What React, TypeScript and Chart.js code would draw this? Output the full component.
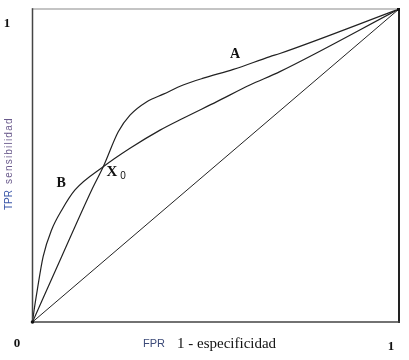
import { useEffect, useRef } from "react";
import { Chart, registerables } from "chart.js";
Chart.register(...registerables);

// Curve A (upper at right, steeper then bends)
const curveAX = [0, 0.08, 0.1615, 0.193, 0.234, 0.266, 0.312, 0.357, 0.411, 0.466, 0.548, 0.648, 0.675, 1];
const curveAY = [0, 0.21, 0.4217, 0.496, 0.608, 0.661, 0.704, 0.728, 0.757, 0.779, 0.807, 0.848, 0.858, 1];
// Curve B (concave, lower at right)
const curveBX = [0, 0.004, 0.013, 0.029, 0.052, 0.08, 0.116, 0.193, 0.266, 0.348, 0.411, 0.503, 0.593, 0.675, 1];
const curveBY = [0, 0.035, 0.102, 0.209, 0.294, 0.358, 0.422, 0.496, 0.555, 0.613, 0.651, 0.704, 0.757, 0.8, 1];
// Diagonal (random classifier)
const diagX = [0, 1];
const diagY = [0, 1];

// Annotations in data coordinates
const labelA = { text: "A", x: 0.553, y: 0.856 };
const labelB = { text: "B", x: 0.078, y: 0.442 };
const labelX0 = { text: "X", sub: "0", x: 0.217, y: 0.479 };

const toPts = (xs: number[], ys: number[]) => xs.map((x, i) => ({ x, y: ys[i] }));

const framePlugin = {
  id: "frameAndText",
  afterDraw(chart: any) {
    const { ctx, chartArea: a, scales } = chart;
    const xs = scales.x, ys = scales.y;
    ctx.save();
    // frame
    ctx.lineCap = "square";
    ctx.strokeStyle = "#8a8a8a";
    ctx.lineWidth = 1.2;
    ctx.beginPath(); ctx.moveTo(a.left, a.top); ctx.lineTo(a.right, a.top); ctx.stroke();
    ctx.strokeStyle = "#222";
    ctx.lineWidth = 2;
    ctx.beginPath(); ctx.moveTo(a.right, a.top); ctx.lineTo(a.right, a.bottom); ctx.stroke();
    ctx.strokeStyle = "#444";
    ctx.lineWidth = 1.5;
    ctx.beginPath(); ctx.moveTo(a.left, a.top); ctx.lineTo(a.left, a.bottom); ctx.lineTo(a.right, a.bottom); ctx.stroke();
    ctx.fillStyle = "#111";
    ctx.beginPath(); ctx.arc(a.left, a.bottom, 1.8, 0, Math.PI * 2); ctx.fill();
    ctx.fillRect(a.right - 2, a.top - 1, 3, 3);

    // corner labels
    ctx.fillStyle = "#111";
    ctx.font = "bold 13px 'Liberation Serif', serif";
    ctx.textAlign = "center";
    ctx.textBaseline = "middle";
    ctx.fillText("1", a.left - 25.5, a.top + 15);
    ctx.fillText("0", a.left - 15.5, a.bottom + 22);
    ctx.fillText("1", a.right - 8, a.bottom + 25);

    // curve labels
    ctx.font = "bold 14px 'Liberation Serif', serif";
    ctx.fillText(labelA.text, xs.getPixelForValue(labelA.x), ys.getPixelForValue(labelA.y));
    ctx.fillText(labelB.text, xs.getPixelForValue(labelB.x), ys.getPixelForValue(labelB.y));
    const px0 = xs.getPixelForValue(labelX0.x), py0 = ys.getPixelForValue(labelX0.y);
    ctx.font = "bold 15px 'Liberation Serif', serif";
    ctx.fillText(labelX0.text, px0, py0);
    ctx.font = "10px 'Liberation Sans', sans-serif";
    ctx.fillText(labelX0.sub, px0 + 11, py0 + 4);

    // x axis title
    ctx.textAlign = "left";
    ctx.font = "11px 'Liberation Sans', sans-serif";
    ctx.fillStyle = "#3c4a78";
    const tx = a.left + 110.5;
    const ty = a.bottom + 22;
    ctx.fillText("FPR", tx, ty);
    ctx.fillStyle = "#111";
    ctx.font = "15px 'Liberation Serif', serif";
    ctx.fillText("1 - especificidad", tx + 34, ty);

    // y axis title (rotated)
    ctx.translate(a.left - 23, a.bottom - 112);
    ctx.rotate(-Math.PI / 2);
    ctx.font = "10px 'Liberation Sans', sans-serif";
    ctx.textAlign = "left";
    ctx.fillStyle = "#3a56a8";
    ctx.fillText("TPR", 0, 0);
    ctx.fillStyle = "#6a5a8c";
    (ctx as any).letterSpacing = "1.2px";
    ctx.fillText("sensibilidad", 26, 0);
    ctx.restore();
  },
};

export default function App() {
  const ref = useRef<HTMLCanvasElement>(null);
  useEffect(() => {
    if (!ref.current) return;
    const lineStyle = {
      borderColor: "#222",
      borderWidth: 1.2,
      pointRadius: 0,
      fill: false,
      showLine: true,
      cubicInterpolationMode: "monotone" as const,
    };
    const chart = new Chart(ref.current, {
      type: "scatter",
      data: {
        datasets: [
          { label: "A", data: toPts(curveAX, curveAY), ...lineStyle },
          { label: "B", data: toPts(curveBX, curveBY), ...lineStyle },
          { label: "diag", data: toPts(diagX, diagY), ...lineStyle, borderWidth: 1 },
        ],
      },
      options: {
        responsive: false,
        animation: false,
        layout: { padding: { left: 32.5, right: 10, top: 9, bottom: 38 } },
        plugins: { legend: { display: false }, tooltip: { enabled: false } },
        scales: {
          x: { type: "linear", display: false, min: 0, max: 1 },
          y: { type: "linear", display: false, min: 0, max: 1 },
        },
      },
      plugins: [framePlugin],
    });
    return () => chart.destroy();
  }, []);
  return (
    <div style={{ position: "fixed", left: 0, top: 0, width: 409, height: 360, background: "#fff" }}>
      <canvas ref={ref} width={409} height={360} style={{ width: 409, height: 360, display: "block" }} />
    </div>
  );
}
